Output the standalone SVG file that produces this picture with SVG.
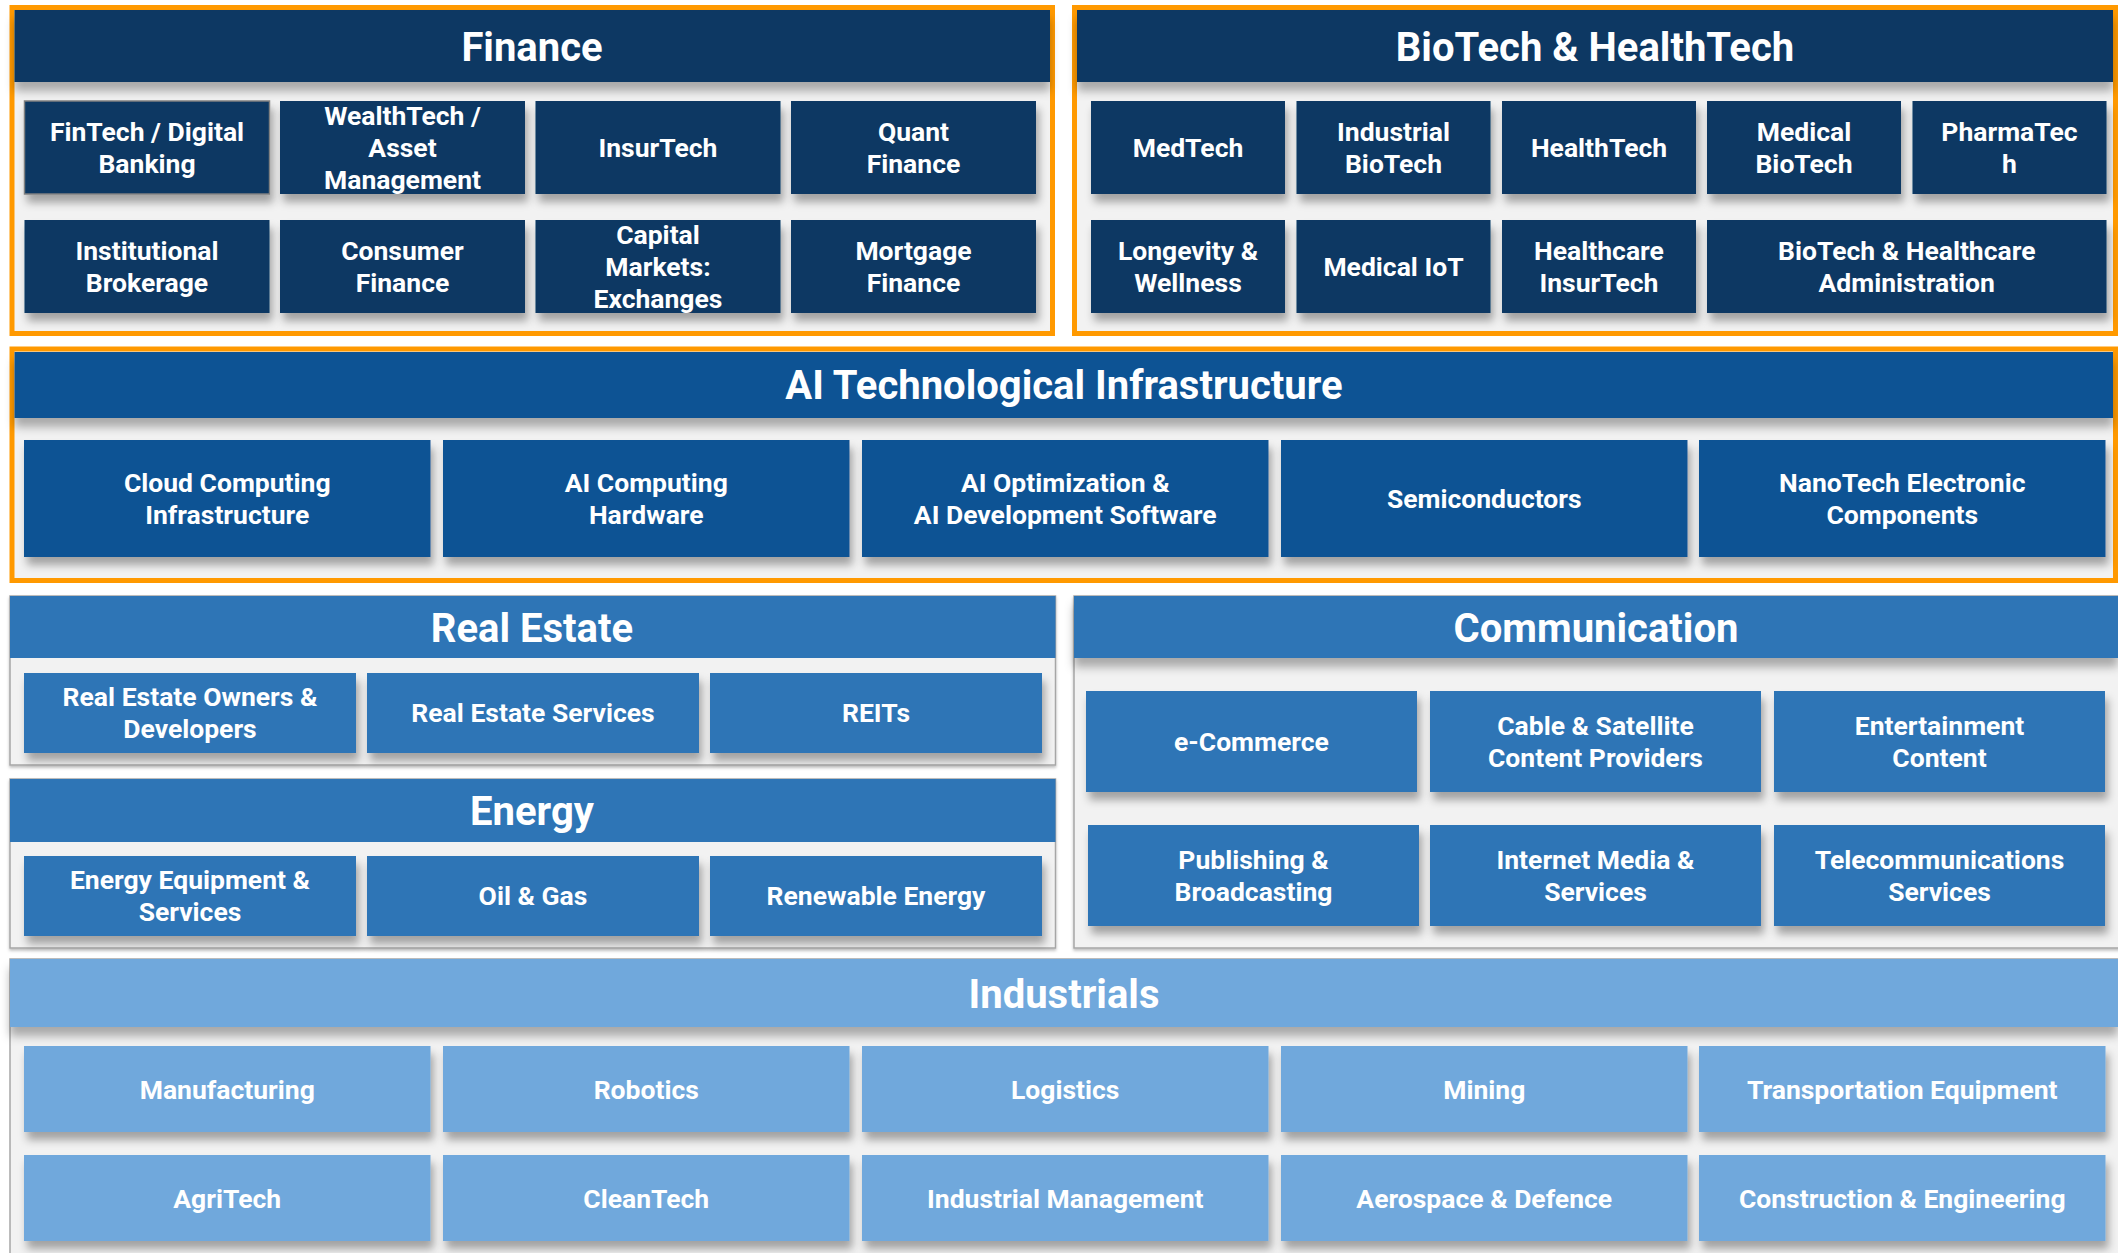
<svg xmlns="http://www.w3.org/2000/svg" width="2118" height="1253" viewBox="0 0 2118 1253">
<defs>
<filter id="sh" x="-10%" y="-20%" width="125%" height="160%">
<feDropShadow dx="3" dy="8" stdDeviation="4" flood-color="#000" flood-opacity="0.33"/>
</filter>
<filter id="hsh" x="-2%" y="-20%" width="104%" height="160%">
<feDropShadow dx="0" dy="9" stdDeviation="5" flood-color="#000" flood-opacity="0.3"/>
</filter>
<filter id="osh" x="-2%" y="-5%" width="104%" height="115%">
<feDropShadow dx="0" dy="2" stdDeviation="1.5" flood-color="#000" flood-opacity="0.25"/>
</filter>
</defs>
<style>
text{font-family:Roboto,"Liberation Sans",Arial,sans-serif;font-weight:700;fill:#fff;text-anchor:middle}
.h{font-size:40px}
.t{font-size:26.5px}
.frameO{fill:#f2f2f2;stroke:#ff9900;stroke-width:5}
.frameG{fill:#f2f2f2;stroke:#a6a6a6;stroke-width:1.5}
.navy{fill:#0a3764}
.ai{fill:#0e5294}
.mid{fill:#2e75b6}
.lt{fill:#6fa8dc}
.bx{filter:url(#sh)}
.hd{filter:url(#hsh)}
</style>
<rect width="2118" height="1253" fill="#fff"/>

<!-- FINANCE -->
<g id="finance">
<rect class="frameO" x="12" y="7.5" width="1040.5" height="326"/>
<rect class="navy hd" x="14.5" y="10" width="1035.5" height="72"/>
<text class="h" x="532" y="61">Finance</text>
</g>
<g id="fintech"><rect class="navy bx" x="24.5" y="101" width="245" height="93" stroke="#808080" stroke-width="1.5"/><text class="t" x="147" y="140.8">FinTech / Digital<tspan x="147" y="172.8">Banking</tspan></text></g>
<g id="wealthtech"><rect class="navy bx" x="280" y="101" width="245" height="93"/><text class="t" x="402.5" y="124.8">WealthTech /<tspan x="402.5" y="156.8">Asset</tspan><tspan x="402.5" y="188.8">Management</tspan></text></g>
<g id="insurtech"><rect class="navy bx" x="535.5" y="101" width="245" height="93"/><text class="t" x="658" y="156.8">InsurTech</text></g>
<g id="quant"><rect class="navy bx" x="791" y="101" width="245" height="93"/><text class="t" x="913.5" y="140.8">Quant<tspan x="913.5" y="172.8">Finance</tspan></text></g>
<g id="brokerage"><rect class="navy bx" x="24.5" y="220" width="245" height="93"/><text class="t" x="147" y="259.8">Institutional<tspan x="147" y="291.8">Brokerage</tspan></text></g>
<g id="consumer"><rect class="navy bx" x="280" y="220" width="245" height="93"/><text class="t" x="402.5" y="259.8">Consumer<tspan x="402.5" y="291.8">Finance</tspan></text></g>
<g id="capital"><rect class="navy bx" x="535.5" y="220" width="245" height="93"/><text class="t" x="658" y="243.8">Capital<tspan x="658" y="275.8">Markets:</tspan><tspan x="658" y="307.8">Exchanges</tspan></text></g>
<g id="mortgage"><rect class="navy bx" x="791" y="220" width="245" height="93"/><text class="t" x="913.5" y="259.8">Mortgage<tspan x="913.5" y="291.8">Finance</tspan></text></g>

<!-- BIOTECH -->
<g id="biotech">
<rect class="frameO" x="1074.5" y="7.5" width="1041" height="326"/>
<rect class="navy hd" x="1077" y="10" width="1036" height="72"/>
<text class="h" x="1595" y="61">BioTech &amp; HealthTech</text>
</g>
<g id="medtech"><rect class="navy bx" x="1091" y="101" width="194" height="93"/><text class="t" x="1188" y="156.8">MedTech</text></g>
<g id="indbio"><rect class="navy bx" x="1296.5" y="101" width="194" height="93"/><text class="t" x="1393.5" y="140.8">Industrial<tspan x="1393.5" y="172.8">BioTech</tspan></text></g>
<g id="healthtech"><rect class="navy bx" x="1502" y="101" width="194" height="93"/><text class="t" x="1599" y="156.8">HealthTech</text></g>
<g id="medbio"><rect class="navy bx" x="1707" y="101" width="194" height="93"/><text class="t" x="1804" y="140.8">Medical<tspan x="1804" y="172.8">BioTech</tspan></text></g>
<g id="pharma"><rect class="navy bx" x="1912.5" y="101" width="194" height="93"/><text class="t" x="2009.5" y="140.8">PharmaTec<tspan x="2009.5" y="172.8">h</tspan></text></g>
<g id="longevity"><rect class="navy bx" x="1091" y="220" width="194" height="93"/><text class="t" x="1188" y="259.8">Longevity &amp;<tspan x="1188" y="291.8">Wellness</tspan></text></g>
<g id="mediot"><rect class="navy bx" x="1296.5" y="220" width="194" height="93"/><text class="t" x="1393.5" y="275.8">Medical IoT</text></g>
<g id="hcinsur"><rect class="navy bx" x="1502" y="220" width="194" height="93"/><text class="t" x="1599" y="259.8">Healthcare<tspan x="1599" y="291.8">InsurTech</tspan></text></g>
<g id="admin"><rect class="navy bx" x="1707" y="220" width="399.5" height="93"/><text class="t" x="1906.75" y="259.8">BioTech &amp; Healthcare<tspan x="1906.75" y="291.8">Administration</tspan></text></g>

<!-- AI -->
<g id="ai">
<rect class="frameO" x="12" y="349" width="2103.5" height="231.5"/>
<rect class="ai hd" x="14.5" y="352" width="2098.5" height="66"/>
<text class="h" x="1064" y="399">AI Technological Infrastructure</text>
</g>
<g id="cloud"><rect class="ai bx" x="24" y="440" width="406.5" height="117"/><text class="t" x="227.25" y="491.8">Cloud Computing<tspan x="227.25" y="523.8">Infrastructure</tspan></text></g>
<g id="aihw"><rect class="ai bx" x="443" y="440" width="406.5" height="117"/><text class="t" x="646.25" y="491.8">AI Computing<tspan x="646.25" y="523.8">Hardware</tspan></text></g>
<g id="aisw"><rect class="ai bx" x="862" y="440" width="406.5" height="117"/><text class="t" x="1065.25" y="491.8">AI Optimization &amp;<tspan x="1065.25" y="523.8">AI Development Software</tspan></text></g>
<g id="semi"><rect class="ai bx" x="1281" y="440" width="406.5" height="117"/><text class="t" x="1484.25" y="507.8">Semiconductors</text></g>
<g id="nano"><rect class="ai bx" x="1699" y="440" width="406.5" height="117"/><text class="t" x="1902.25" y="491.8">NanoTech Electronic<tspan x="1902.25" y="523.8">Components</tspan></text></g>

<!-- REAL ESTATE -->
<g id="realestate">
<rect class="frameG" x="10" y="596" width="1045.5" height="169" filter="url(#osh)"/>
<rect class="mid" x="10" y="596" width="1045.5" height="62"/>
<text class="h" x="532" y="642">Real Estate</text>
</g>
<g id="reowners"><rect class="mid bx" x="24" y="673" width="332" height="80"/><text class="t" x="190" y="706.3">Real Estate Owners &amp;<tspan x="190" y="738.3">Developers</tspan></text></g>
<g id="reservices"><rect class="mid bx" x="367" y="673" width="332" height="80"/><text class="t" x="533" y="722.3">Real Estate Services</text></g>
<g id="reits"><rect class="mid bx" x="710" y="673" width="332" height="80"/><text class="t" x="876" y="722.3">REITs</text></g>

<!-- ENERGY -->
<g id="energy">
<rect class="frameG" x="10" y="779" width="1045.5" height="169" filter="url(#osh)"/>
<rect class="mid" x="10" y="779" width="1045.5" height="63"/>
<text class="h" x="532" y="825">Energy</text>
</g>
<g id="eqsvc"><rect class="mid bx" x="24" y="856" width="332" height="80"/><text class="t" x="190" y="889.3">Energy Equipment &amp;<tspan x="190" y="921.3">Services</tspan></text></g>
<g id="oilgas"><rect class="mid bx" x="367" y="856" width="332" height="80"/><text class="t" x="533" y="905.3">Oil &amp; Gas</text></g>
<g id="renew"><rect class="mid bx" x="710" y="856" width="332" height="80"/><text class="t" x="876" y="905.3">Renewable Energy</text></g>

<!-- COMMUNICATION -->
<g id="communication">
<rect class="frameG" x="1074" y="596" width="1050" height="352" filter="url(#osh)"/>
<rect class="mid hd" x="1074" y="596" width="1044" height="62"/>
<text class="h" x="1596" y="642">Communication</text>
</g>
<g id="ecom"><rect class="mid bx" x="1086" y="691" width="331" height="101"/><text class="t" x="1251.5" y="750.8">e-Commerce</text></g>
<g id="cable"><rect class="mid bx" x="1430" y="691" width="331" height="101"/><text class="t" x="1595.5" y="734.8">Cable &amp; Satellite<tspan x="1595.5" y="766.8">Content Providers</tspan></text></g>
<g id="entertain"><rect class="mid bx" x="1774" y="691" width="331" height="101"/><text class="t" x="1939.5" y="734.8">Entertainment<tspan x="1939.5" y="766.8">Content</tspan></text></g>
<g id="publishing"><rect class="mid bx" x="1088" y="825" width="331" height="101"/><text class="t" x="1253.5" y="868.8">Publishing &amp;<tspan x="1253.5" y="900.8">Broadcasting</tspan></text></g>
<g id="internet"><rect class="mid bx" x="1430" y="825" width="331" height="101"/><text class="t" x="1595.5" y="868.8">Internet Media &amp;<tspan x="1595.5" y="900.8">Services</tspan></text></g>
<g id="telecom"><rect class="mid bx" x="1774" y="825" width="331" height="101"/><text class="t" x="1939.5" y="868.8">Telecommunications<tspan x="1939.5" y="900.8">Services</tspan></text></g>

<!-- INDUSTRIALS -->
<g id="industrials">
<rect class="frameG" x="10" y="959" width="2115" height="320"/>
<rect class="lt hd" x="10" y="959" width="2108" height="68"/>
<text class="h" x="1064" y="1008">Industrials</text>
</g>
<g id="manufacturing"><rect class="lt bx" x="24" y="1046" width="406.5" height="86"/><text class="t" x="227.25" y="1099">Manufacturing</text></g>
<g id="robotics"><rect class="lt bx" x="443" y="1046" width="406.5" height="86"/><text class="t" x="646.25" y="1099">Robotics</text></g>
<g id="logistics"><rect class="lt bx" x="862" y="1046" width="406.5" height="86"/><text class="t" x="1065.25" y="1099">Logistics</text></g>
<g id="mining"><rect class="lt bx" x="1281" y="1046" width="406.5" height="86"/><text class="t" x="1484.25" y="1099">Mining</text></g>
<g id="transport"><rect class="lt bx" x="1699" y="1046" width="406.5" height="86"/><text class="t" x="1902.25" y="1099">Transportation Equipment</text></g>
<g id="agritech"><rect class="lt bx" x="24" y="1155" width="406.5" height="86"/><text class="t" x="227.25" y="1208">AgriTech</text></g>
<g id="cleantech"><rect class="lt bx" x="443" y="1155" width="406.5" height="86"/><text class="t" x="646.25" y="1208">CleanTech</text></g>
<g id="indmgmt"><rect class="lt bx" x="862" y="1155" width="406.5" height="86"/><text class="t" x="1065.25" y="1208">Industrial Management</text></g>
<g id="aerospace"><rect class="lt bx" x="1281" y="1155" width="406.5" height="86"/><text class="t" x="1484.25" y="1208">Aerospace &amp; Defence</text></g>
<g id="construction"><rect class="lt bx" x="1699" y="1155" width="406.5" height="86"/><text class="t" x="1902.25" y="1208">Construction &amp; Engineering</text></g>

<g id="connectors"/>
</svg>
